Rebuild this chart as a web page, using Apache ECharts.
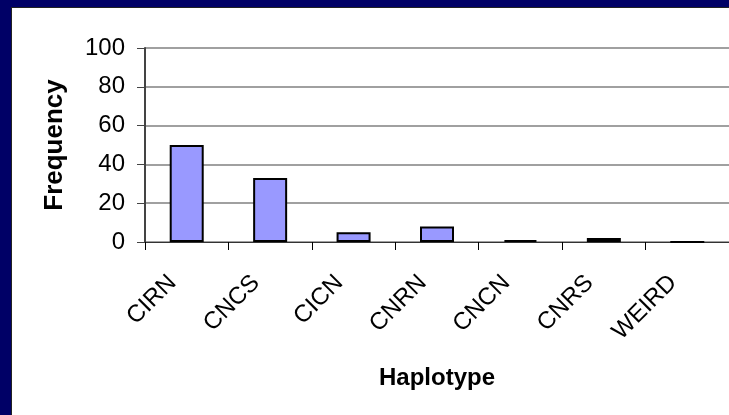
<!DOCTYPE html>
<html>
<head>
<meta charset="utf-8">
<script src="https://cdn.jsdelivr.net/npm/echarts@6/dist/echarts.min.js"></script>
<style>
html, body { margin: 0; padding: 0; background: #000066; width: 729px; height: 415px; overflow: hidden; }
#main { position: absolute; left: 11px; top: 7px; width: 717px; height: 407px; background: #fff; border-left: 1px solid #222; border-top: 1px solid #222; }
</style>
</head>
<body>
<div id="main"></div>
<script>
// haplotype counts
var haplotypes = ['CIRN', 'CNCS', 'CICN', 'CNRN', 'CNCN', 'CNRS', 'WEIRD'];
var frequency = [50, 33, 5, 8, 1, 2, 0];
var yTicks = [0, 20, 40, 60, 80, 100];

var font = 'Arial, "Liberation Sans", sans-serif';

var option = {
    animation: false,
    grid: { left: 133, top: 40, right: 0, bottom: 173 },
    xAxis: {
        type: 'category',
        data: haplotypes,
        name: 'Haplotype',
        nameLocation: 'middle',
        nameGap: 124,
        nameTextStyle: { fontFamily: font, fontSize: 24, fontWeight: 'bold', color: '#000' },
        axisLine: { lineStyle: { color: '#333', width: 1 } },
        axisTick: { show: true, length: 8, lineStyle: { color: '#000' } },
        axisLabel: { rotate: 45, margin: 23, padding: [0, 20, 0, 0], fontFamily: font, fontSize: 24, color: '#000' }
    },
    yAxis: {
        type: 'value',
        min: yTicks[0],
        max: yTicks[yTicks.length - 1],
        interval: 20,
        name: 'Frequency',
        nameLocation: 'middle',
        nameGap: 77,
        nameTextStyle: { fontFamily: font, fontSize: 26, fontWeight: 'bold', color: '#000' },
        axisLine: { show: true, lineStyle: { color: '#444', width: 2 } },
        axisTick: { show: true, length: 8, lineStyle: { color: '#444' } },
        axisLabel: { margin: 20, fontFamily: font, fontSize: 24, color: '#000' },
        splitLine: { lineStyle: { color: '#808080', width: 1.5 } }
    },
    series: [{
        type: 'bar',
        data: frequency,
        barWidth: 34,
        itemStyle: { color: '#9999ff', borderColor: '#000', borderWidth: 2 }
    }]
};

var myChart = echarts.init(document.getElementById('main'));
myChart.setOption(option);
</script>
</body>
</html>
